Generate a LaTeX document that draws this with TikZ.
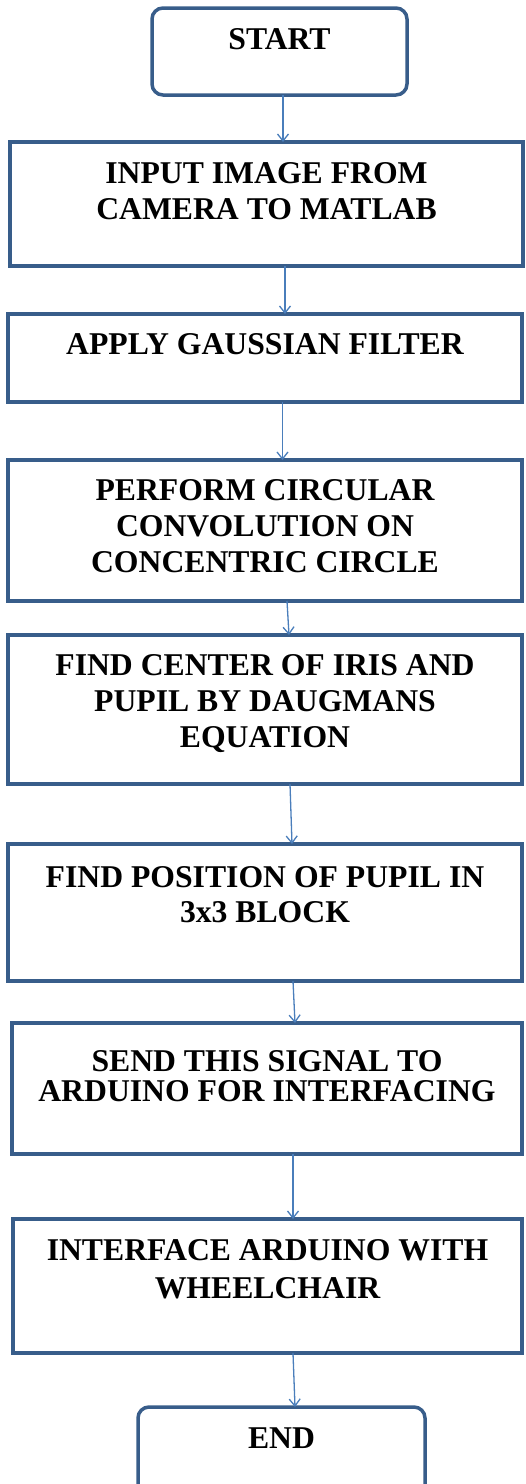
\documentclass[tikz,border=0pt]{standalone}
\usepackage{fontspec}
\setmainfont{Liberation Serif}
\usetikzlibrary{positioning, arrows.meta}
\definecolor{boxblue}{RGB}{56,93,138}
\definecolor{lineblue}{RGB}{74,126,187}
% box body: [caps offset]{width}{height}{text}, text sits at the top
\newcommand{\stepbody}[4][21pt]{\parbox[c][#3][t]{#2}{\centering\vspace*{#1}#4}}
\tikzset{
every node/.style={inner sep=0pt, outer sep=0pt},
process/.style={ % plain step box
draw=boxblue, line width=3.5pt, fill=white,
font=\fontsize{31.7pt}{36pt}\selectfont\bfseries},
terminal/.style={process, rounded corners=11pt}, % start / end
flow/.style={draw=lineblue, line width=1.3pt, -{Straight Barb[length=7pt,width=11pt]}}}

\begin{document}
\begin{tikzpicture}
    \useasboundingbox (0pt,0pt) rectangle (526pt,-1484pt);

    \node[terminal, anchor=north] (s0) at (279.5pt,-8pt) {\stepbody{255pt}{87pt}{START}};
    \node[process, below=47pt of s0, xshift=-13pt] (s1) {\stepbody{513pt}{124pt}{INPUT IMAGE FROM\\CAMERA TO MATLAB}};
    \node[process, below=48pt of s1, xshift=-1.5pt] (s2) {\stepbody[20pt]{514pt}{88pt}{APPLY GAUSSIAN FILTER}};
    \node[process, below=58pt of s2] (s3) {\stepbody[19.5pt]{514pt}{141pt}{PERFORM CIRCULAR\\CONVOLUTION ON\\CONCENTRIC CIRCLE}};
    \node[process, below=34pt of s3] (s4) {\stepbody[19.5pt]{514pt}{149pt}{FIND CENTER OF IRIS AND\\PUPIL BY DAUGMANS\\EQUATION}};
    \node[process, below=60pt of s4] (s5) {\stepbody[22pt]{514pt}{137pt}{FIND POSITION OF PUPIL IN\\[-1pt]3x3 BLOCK}};
    \node[process, below=42pt of s5, xshift=2pt] (s6) {\stepbody[27pt]{510pt}{131pt}{SEND THIS SIGNAL TO\\[-6pt]ARDUINO FOR INTERFACING}};
    \node[process, below=65pt of s6, xshift=0.5pt] (s7) {\stepbody[20.5pt]{509pt}{134pt}{INTERFACE ARDUINO WITH\\[2pt]WHEELCHAIR}};
    \node[terminal, below=54pt of s7, xshift=14pt] (s8) {\stepbody[20.5pt]{287pt}{90pt}{END}};

    \draw[flow] ([xshift=3.5pt]s0.south) -- ([xshift=16.5pt]s1.north);
    \draw[flow] ([xshift=18.5pt]s1.south) -- ([xshift=20pt]s2.north);
    \draw[flow] ([xshift=17.5pt]s2.south) -- ([xshift=17.5pt]s3.north);
    \draw[flow] ([xshift=22pt]s3.south) -- ([xshift=24pt]s4.north);
    \draw[flow] ([xshift=25pt]s4.south) -- ([xshift=27pt]s5.north);
    \draw[flow] ([xshift=28pt]s5.south) -- ([xshift=28pt]s6.north);
    \draw[flow] ([xshift=26pt]s6.south) -- ([xshift=25.5pt]s7.north);
    \draw[flow] ([xshift=25.5pt]s7.south) -- ([xshift=13.5pt]s8.north);

\end{tikzpicture}
\end{document}
